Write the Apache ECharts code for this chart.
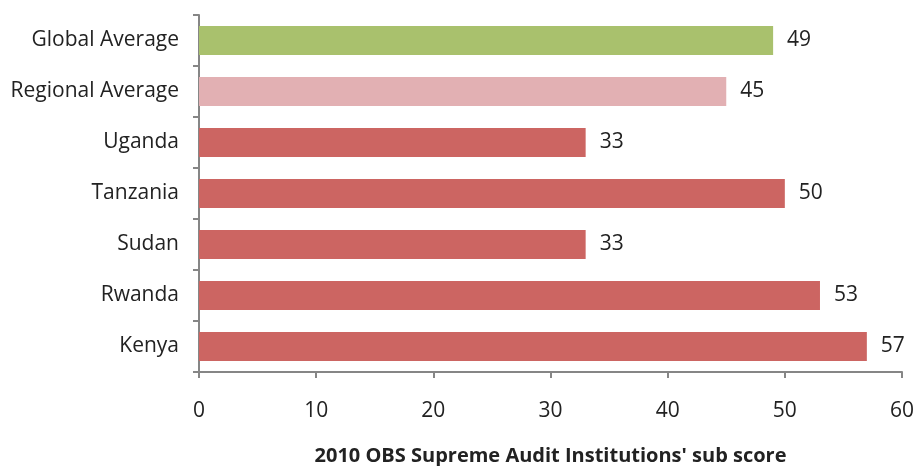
<!DOCTYPE html>
<html><head><meta charset="utf-8">
<script src="https://cdn.jsdelivr.net/npm/echarts@6/dist/echarts.min.js"></script>
<style>html,body{margin:0;padding:0;background:#fff}#c{width:918px;height:466px}</style>
</head><body><div id="c"></div>
<script>
const categories = ["Kenya", "Rwanda", "Sudan", "Tanzania", "Uganda", "Regional Average", "Global Average"];
const values = [57, 53, 33, 50, 33, 45, 49];
const barColors = ["#CC6562", "#CC6562", "#CC6562", "#CC6562", "#CC6562", "#E2B0B3", "#A9C16D"];
const xTitle = "2010 OBS Supreme Audit Institutions' sub score";

const font = "'Open Sans', Lato, sans-serif";
const chart = echarts.init(document.getElementById('c'));
chart.setOption({
  animation: false,
  grid: { left: 199, right: 16, top: 15, bottom: 94, containLabel: false, outerBoundsMode: 'none' },
  xAxis: {
    type: 'value', min: 0, max: 60, interval: 10,
    name: xTitle, nameLocation: 'middle', nameGap: 74,
    nameTextStyle: { fontFamily: font, fontSize: 20, fontWeight: 'bold', color: '#222' },
    axisLine: { show: true, lineStyle: { color: '#868686', width: 2 } },
    axisTick: { show: true, length: 6, lineStyle: { color: '#868686', width: 2 } },
    axisLabel: { fontFamily: font, fontSize: 21, color: '#222', margin: 29 },
    splitLine: { show: false }
  },
  yAxis: {
    type: 'category', data: categories,
    axisLine: { show: true, lineStyle: { color: '#868686', width: 2 } },
    axisTick: { show: true, length: 6, lineStyle: { color: '#868686', width: 2 } },
    axisLabel: { fontFamily: font, fontSize: 21, color: '#222', margin: 20, padding: [5, 0, 0, 0] }
  },
  series: [{
    type: 'bar', barWidth: 29,
    data: values.map((v, i) => ({ value: v, itemStyle: { color: barColors[i] } })),
    label: { show: true, position: 'right', distance: 14, fontFamily: font, fontSize: 21, color: '#222', padding: [4, 0, 0, 0] }
  }]
});
</script></body></html>
